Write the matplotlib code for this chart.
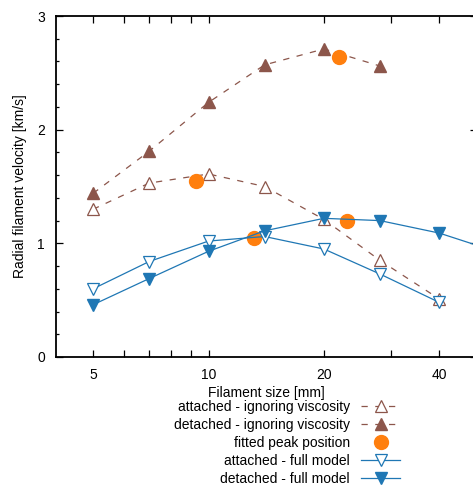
import matplotlib
matplotlib.use("Agg")
import matplotlib.pyplot as plt
from matplotlib.ticker import FixedLocator, NullFormatter, FixedFormatter

plt.rcParams['font.family'] = ['Liberation Sans', 'DejaVu Sans']
plt.rcParams['font.size'] = 10

# filament sizes [mm]
size = [5, 7, 10, 14, 20, 28, 40]
size_det_full = [5, 7, 10, 14, 20, 28, 40, 56]

att_inviscid = [1.30, 1.53, 1.61, 1.50, 1.21, 0.85, 0.51]
det_inviscid = [1.44, 1.81, 2.24, 2.57, 2.71, 2.56]
att_full = [0.60, 0.84, 1.02, 1.06, 0.95, 0.73, 0.48]
det_full = [0.46, 0.69, 0.93, 1.11, 1.22, 1.20, 1.09, 0.93]

peak_x = [9.28, 13.1, 21.9, 23.0]
peak_y = [1.55, 1.05, 2.64, 1.20]

brown = '#8c564b'
orange = '#ff7f0e'
blue = '#1f77b4'

fig = plt.figure(figsize=(4.73, 4.86), dpi=100)
ax = fig.add_axes([56/473, (486-357)/486, 420.5/473, 341/486])

ax.plot(size, att_inviscid, ls=(0, (5, 6)), lw=0.9, color=brown, marker='^',
        ms=8.5, mfc='white', mec=brown, mew=0.9,
        label='attached - ignoring viscosity')
ax.plot(size[:6], det_inviscid, ls=(0, (5, 6)), lw=0.9, color=brown, marker='^',
        ms=8.5, mfc=brown, mec=brown,
        label='detached - ignoring viscosity')
ax.plot(peak_x, peak_y, ls='none', marker='o', ms=10, color=orange,
        label='fitted peak position')
ax.plot(size, att_full, ls='-', lw=0.9, color=blue, marker='v',
        ms=8.5, mfc='white', mec=blue, mew=0.9,
        label='attached - full model')
ax.plot(size_det_full, det_full, ls='-', lw=0.9, color=blue, marker='v',
        ms=8.5, mfc=blue, mec=blue,
        label='detached - full model')

ax.set_xscale('log')
ax.set_xlim(4, 50)
ax.set_ylim(0, 3)

ax.xaxis.set_major_locator(FixedLocator([5, 6, 7, 8, 9, 10, 20, 30, 40]))
ax.xaxis.set_major_formatter(FixedFormatter(['5', '', '', '', '', '10', '20', '', '40']))
ax.xaxis.set_minor_locator(FixedLocator([]))
ax.xaxis.set_minor_formatter(NullFormatter())
ax.set_yticks([0, 1, 2, 3])
ax.yaxis.set_minor_locator(FixedLocator([0.2, 0.4, 0.6, 0.8, 1.2, 1.4, 1.6, 1.8,
                                         2.2, 2.4, 2.6, 2.8]))

ax.tick_params(which='both', direction='in', top=True, right=True, width=0.9)
ax.tick_params(which='major', length=5, pad=8)
ax.tick_params(which='minor', length=2.5)
for s in ax.spines.values():
    s.set_linewidth(1.3)

ax.set_xlabel('Filament size [mm]', labelpad=3)
ax.set_ylabel('Radial filament velocity [km/s]', labelpad=7.5)

ax.legend(loc='upper right', bbox_to_anchor=(400/473, (486-400)/486),
          bbox_transform=fig.transFigure, markerfirst=False, frameon=False,
          handlelength=2.8, handletextpad=0.8, labelspacing=0.28,
          borderpad=0, borderaxespad=0)

fig.savefig('out.png', dpi=100)
